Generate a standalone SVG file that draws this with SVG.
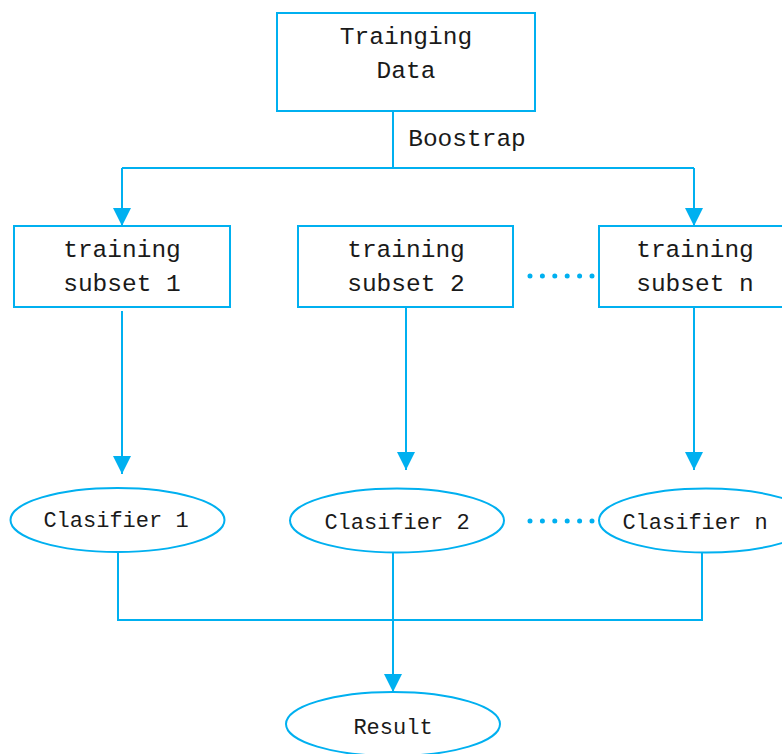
<svg xmlns="http://www.w3.org/2000/svg" width="782" height="754" viewBox="0 0 782 754">
  <defs>
    <marker id="arrow" viewBox="0 0 18 18" refX="18" refY="9" markerWidth="18" markerHeight="18" markerUnits="userSpaceOnUse" orient="auto">
      <path d="M0,0 L18,9 L0,18 Z" fill="#00b0f0"/>
    </marker>
    <style>
      .box { fill: #ffffff; stroke: #00b0f0; stroke-width: 2; }
      .link { fill: none; stroke: #00b0f0; stroke-width: 2; }
      .dots { fill: none; stroke: #00b0f0; stroke-width: 5; stroke-linecap: round; stroke-dasharray: 0 12.4; }
      .lbl { font-family: "Liberation Mono", "DejaVu Sans Mono", monospace; font-size: 24.5px; fill: #1a1a1a; text-anchor: middle; }
      .small { font-size: 22px; }
    </style>
  </defs>
  <rect width="782" height="754" fill="#ffffff"/>

  <!-- connectors -->
  <g id="connectors">
    <path class="link" d="M393,111 V168"/>
    <path class="link" d="M122,168 H694"/>
    <path class="link" d="M122,168 V226" marker-end="url(#arrow)"/>
    <path class="link" d="M694,168 V226" marker-end="url(#arrow)"/>
    <path class="link" d="M122,311 V474" marker-end="url(#arrow)"/>
    <path class="link" d="M406,307 V470" marker-end="url(#arrow)"/>
    <path class="link" d="M694,307 V470" marker-end="url(#arrow)"/>
    <path class="link" d="M118,553 V620 H702 V553"/>
    <path class="link" d="M393,553 V692" marker-end="url(#arrow)"/>
    <path class="dots" d="M530,276 H593"/>
    <path class="dots" d="M530,521 H593"/>
    <text class="lbl" x="467" y="146">Boostrap</text>
  </g>

  <g id="training-data">
    <rect class="box" x="277" y="13" width="258" height="98"/>
    <text class="lbl" x="406" y="44">Trainging</text>
    <text class="lbl" x="406" y="78">Data</text>
  </g>

  <g id="subset-1">
    <rect class="box" x="14" y="226" width="216" height="81"/>
    <text class="lbl" x="122" y="257">training</text>
    <text class="lbl" x="122" y="291">subset 1</text>
  </g>

  <g id="subset-2">
    <rect class="box" x="298" y="226" width="215" height="81"/>
    <text class="lbl" x="406" y="257">training</text>
    <text class="lbl" x="406" y="291">subset 2</text>
  </g>

  <g id="subset-n">
    <rect class="box" x="599" y="226" width="216" height="81"/>
    <text class="lbl" x="695" y="257">training</text>
    <text class="lbl" x="695" y="291">subset n</text>
  </g>

  <g id="classifier-1">
    <ellipse class="box" cx="117.5" cy="520" rx="107" ry="32"/>
    <text class="lbl small" x="116" y="527">Clasifier 1</text>
  </g>

  <g id="classifier-2">
    <ellipse class="box" cx="397" cy="520.5" rx="107" ry="32"/>
    <text class="lbl small" x="397" y="529">Clasifier 2</text>
  </g>

  <g id="classifier-n">
    <ellipse class="box" cx="706" cy="520.5" rx="107" ry="32"/>
    <text class="lbl small" x="695" y="529">Clasifier n</text>
  </g>

  <g id="result">
    <ellipse class="box" cx="393" cy="724" rx="107" ry="32"/>
    <text class="lbl small" x="393" y="734">Result</text>
  </g>
</svg>
